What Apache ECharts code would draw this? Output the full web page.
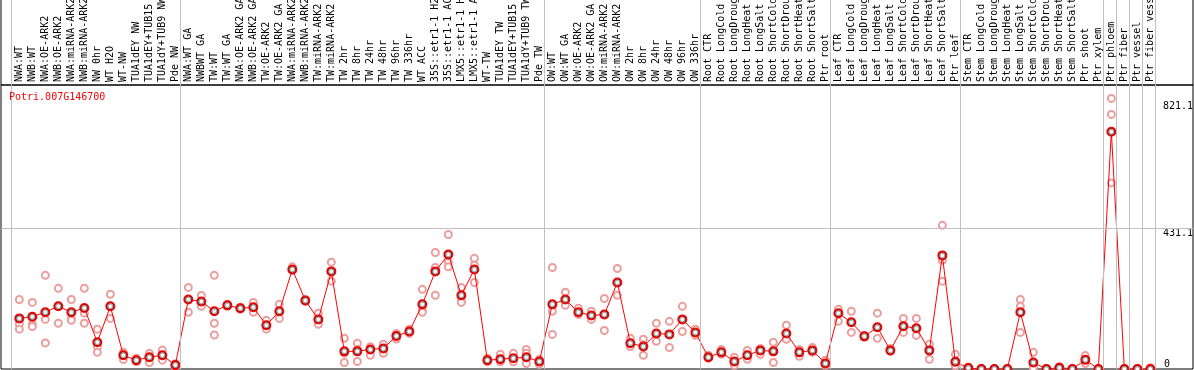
<!DOCTYPE html>
<html>
<head>
<meta charset="utf-8">
<script src="https://cdn.jsdelivr.net/npm/echarts@6/dist/echarts.min.js"></script>
<style>
html, body { margin: 0; padding: 0; background: #fff; }
#chart { width: 1194px; height: 370px; }
</style>
</head>
<body>
<div id="chart"></div>
<script>
var geneName = 'Potri.007G146700';

var categories = [
    'NWA:WT', 'NWB:WT', 'NWA:OE-ARK2', 'NWB:OE-ARK2', 'NWA:miRNA-ARK2', 'NWB:miRNA-ARK2', 'NW 0hr', 'WT H2O', 'WT-NW',
    'TUA1dEY NW', 'TUA1dEY+TUB15 NW', 'TUA1dY+TUB9 NW', 'Pde NW',
    'NWA:WT GA', 'NWBWT GA', 'TW:WT', 'TW:WT GA', 'NWA:OE-ARK2 GA', 'NWB:OE-ARK2 GA', 'TW:OE-ARK2', 'TW:OE-ARK2 GA',
    'NWA:miRNA-ARK2', 'NWB:miRNA-ARK2', 'TW:miRNA-ARK2', 'TW:miRNA-ARK2', 'TW 2hr', 'TW 8hr', 'TW 24hr', 'TW 48hr',
    'TW 96hr', 'TW 336hr', 'WT ACC', '35S::etr1-1 H2O', '35S::etr1-1 ACC', 'LMX5::etr1-1 H2O', 'LMX5::etr1-1 ACC',
    'WT-TW', 'TUA1dEY TW', 'TUA1dEY+TUB15 TW', 'TUA1dY+TUB9 TW', 'Pde TW',
    'OW:WT', 'OW:WT GA', 'OW:OE-ARK2', 'OW:OE-ARK2 GA', 'OW:miRNA-ARK2', 'OW:miRNA-ARK2', 'OW 2hr', 'OW 8hr',
    'OW 24hr', 'OW 48hr', 'OW 96hr', 'OW 336hr',
    'Root CTR', 'Root LongCold', 'Root LongDrought', 'Root LongHeat', 'Root LongSalt', 'Root ShortCold',
    'Root ShortDrought', 'Root ShortHeat', 'Root ShortSalt', 'Ptr root',
    'Leaf CTR', 'Leaf LongCold', 'Leaf LongDrought', 'Leaf LongHeat', 'Leaf LongSalt', 'Leaf ShortCold',
    'Leaf ShortDrought', 'Leaf ShortHeat', 'Leaf ShortSalt', 'Ptr leaf',
    'Stem CTR', 'Stem LongCold', 'Stem LongDrought', 'Stem LongHeat', 'Stem LongSalt', 'Stem ShortCold',
    'Stem ShortDrought', 'Stem ShortHeat', 'Stem ShortSalt', 'Ptr shoot', 'Ptr xylem',
    'Ptr phloem', 'Ptr fiber', 'Ptr vessel', 'Ptr fiber vessel'
];

// mean expression per sample
var means = [
    155, 160, 174, 192, 174, 187, 82, 192, 42, 27, 36, 42, 12,
    213, 207, 177, 195, 186, 189, 134, 177, 305, 210, 152, 299, 54, 54, 60, 63, 101, 115, 198, 299, 351, 226, 305, 27, 30, 33, 36, 23,
    198, 213, 174, 164, 167, 265, 79, 69, 109, 106, 152, 112,
    36, 51, 23, 42, 57, 54, 109, 51, 57, 17,
    171, 143, 100, 128, 57, 131, 125, 57, 348, 22,
    3, 0, 0, 0, 174, 20, 0, 4, 0, 28, 0,
    727, 0, 0, 0
];

// replicate values per sample
var replicates = [
    [213, 137, 122], [204, 137, 130], [287, 152, 80], [247, 192, 140], [213, 155, 149], [247, 171, 140],
    [122, 68, 51], [229, 192, 155], [51, 42, 29], [33, 27, 22], [48, 36, 20], [58, 35, 27], [16, 12, 7],
    [250, 213, 174], [225, 207, 192], [287, 140, 104], [198, 195, 192], [189, 186, 183], [204, 189, 174],
    [149, 134, 122], [198, 177, 155], [313, 305, 302], [213, 210, 207], [171, 152, 137], [327, 299, 269],
    [94, 48, 20], [79, 60, 23], [68, 60, 42], [76, 63, 48], [109, 101, 92], [122, 115, 109], [244, 180, 174],
    [357, 311, 226], [412, 327, 313], [250, 210, 204], [339, 318, 265], [33, 27, 22], [45, 25, 22],
    [48, 30, 22], [60, 48, 17], [30, 25, 14],
    [311, 177, 106], [235, 213, 195], [186, 174, 167], [177, 164, 152], [216, 167, 118], [308, 265, 226],
    [94, 79, 69], [91, 74, 42], [140, 106, 85], [146, 106, 66], [192, 152, 115], [122, 112, 103],
    [42, 36, 33], [60, 51, 45], [36, 23, 11], [57, 42, 30], [63, 57, 45], [82, 54, 20], [134, 109, 91],
    [60, 51, 39], [66, 57, 51], [27, 17, 11],
    [183, 171, 146], [177, 143, 112], [103, 100, 97], [171, 128, 94], [63, 57, 54], [155, 131, 112],
    [155, 125, 103], [76, 57, 30], [440, 333, 269], [45, 12, 10],
    [6, 3, 0], [2, 0, 0], [1, 0, 0], [2, 0, 0], [213, 192, 112], [51, 7, 3], [1, 0, 0], [7, 4, 2],
    [2, 0, 0], [41, 28, 17], [0, 0, 0],
    [829, 780, 570], [0, 0, 0], [0, 0, 0], [4, 0, 0]
];

// group separators come after these sample indexes
var separatorAfter = [-1, 12, 40, 52, 62, 72, 83, 84, 85, 86, 87];

var yTickLabels = [431.1, 821.1];
var yZeroLabel = [0];

var chartDom = document.getElementById('chart');
var myChart = echarts.init(chartDom);

var xMin = -1.41, xMax = 90.28;
var monoFont = 'DejaVu Sans Mono';

var meanData = [];
var repData = [];
for (var i = 0; i < categories.length; i++) {
    meanData.push([i, means[i]]);
    for (var j = 0; j < replicates[i].length; j++) {
        repData.push([i, replicates[i][j]]);
    }
}
var indexList = [];
for (var k = 0; k < categories.length; k++) indexList.push(k);

var sepLines = separatorAfter.map(function (s) {
    return { xAxis: s + 0.4 };
});

var markLineBase = {
    silent: true,
    symbol: 'none',
    animation: false,
    label: { show: false },
    lineStyle: { color: '#c0c0c0', width: 1, type: 'solid' }
};

var option = {
    animation: false,
    backgroundColor: '#fff',
    title: {
        text: geneName,
        left: 9,
        top: 92,
        padding: 0,
        textStyle: {
            color: '#ff0000',
            fontFamily: monoFont,
            fontSize: 10,
            fontWeight: 'normal'
        }
    },
    grid: [
        { left: 1, right: 1, top: 85, bottom: 1, show: true, borderColor: '#000', borderWidth: 1, outerBoundsMode: 'none', containLabel: false },
        { left: 1, right: 1, top: -2, height: 87, show: true, borderColor: '#000', borderWidth: 1, outerBoundsMode: 'none', containLabel: false }
    ],
    xAxis: [
        {
            gridIndex: 0,
            type: 'value',
            position: 'top',
            min: xMin,
            max: xMax,
            axisLine: { show: false },
            axisTick: { show: false },
            splitLine: { show: false },
            axisLabel: {
                customValues: indexList,
                rotate: 90,
                margin: 3,
                color: '#000',
                fontFamily: monoFont,
                fontSize: 10,
                hideOverlap: false,
                formatter: function (v) { return categories[Math.round(v)] || ''; }
            }
        },
        {
            gridIndex: 1,
            type: 'value',
            min: xMin,
            max: xMax,
            show: false
        }
    ],
    yAxis: [
        {
            gridIndex: 0,
            type: 'value',
            position: 'right',
            min: 0,
            max: 870,
            axisLine: { show: false },
            axisTick: { show: false },
            splitLine: { show: false },
            axisLabel: {
                customValues: yTickLabels,
                inside: true,
                align: 'left',
                verticalAlign: 'top',
                margin: 30,
                color: '#000',
                fontFamily: monoFont,
                fontSize: 10
            }
        },
        {
            gridIndex: 0,
            type: 'value',
            position: 'right',
            min: 0,
            max: 870,
            axisLine: { show: false },
            axisTick: { show: false },
            splitLine: { show: false },
            axisLabel: {
                customValues: yZeroLabel,
                inside: true,
                align: 'left',
                verticalAlign: 'bottom',
                margin: 29,
                color: '#000',
                fontFamily: monoFont,
                fontSize: 10
            }
        },
        {
            gridIndex: 1,
            type: 'value',
            min: 0,
            max: 1,
            show: false
        }
    ],
    series: [
        {
            type: 'scatter',
            name: 'separators',
            xAxisIndex: 1,
            yAxisIndex: 2,
            data: [],
            markLine: Object.assign({ data: sepLines }, markLineBase)
        },
        {
            type: 'scatter',
            name: 'replicates',
            xAxisIndex: 0,
            yAxisIndex: 0,
            symbol: 'emptyCircle',
            symbolSize: 7,
            itemStyle: { color: '#eb9e9e', borderWidth: 1, opacity: 1 },
            z: 2,
            data: repData,
            markLine: Object.assign({
                data: sepLines.concat([{ yAxis: 431.1 }])
            }, markLineBase)
        },
        {
            type: 'line',
            name: 'mean',
            xAxisIndex: 0,
            yAxisIndex: 0,
            symbol: 'emptyCircle',
            symbolSize: 8,
            showAllSymbol: true,
            lineStyle: { color: '#ff0000', width: 1 },
            itemStyle: { color: '#ff0000', borderColor: '#ff0000', borderWidth: 1.2 },
            z: 3,
            data: meanData
        },
        {
            type: 'scatter',
            name: 'mean core',
            xAxisIndex: 0,
            yAxisIndex: 0,
            symbol: 'emptyCircle',
            symbolSize: 5.5,
            itemStyle: { color: 'rgba(0,0,0,0.45)', borderWidth: 0.6 },
            z: 4,
            silent: true,
            data: meanData
        }
    ]
};

myChart.setOption(option);
</script>
</body>
</html>
